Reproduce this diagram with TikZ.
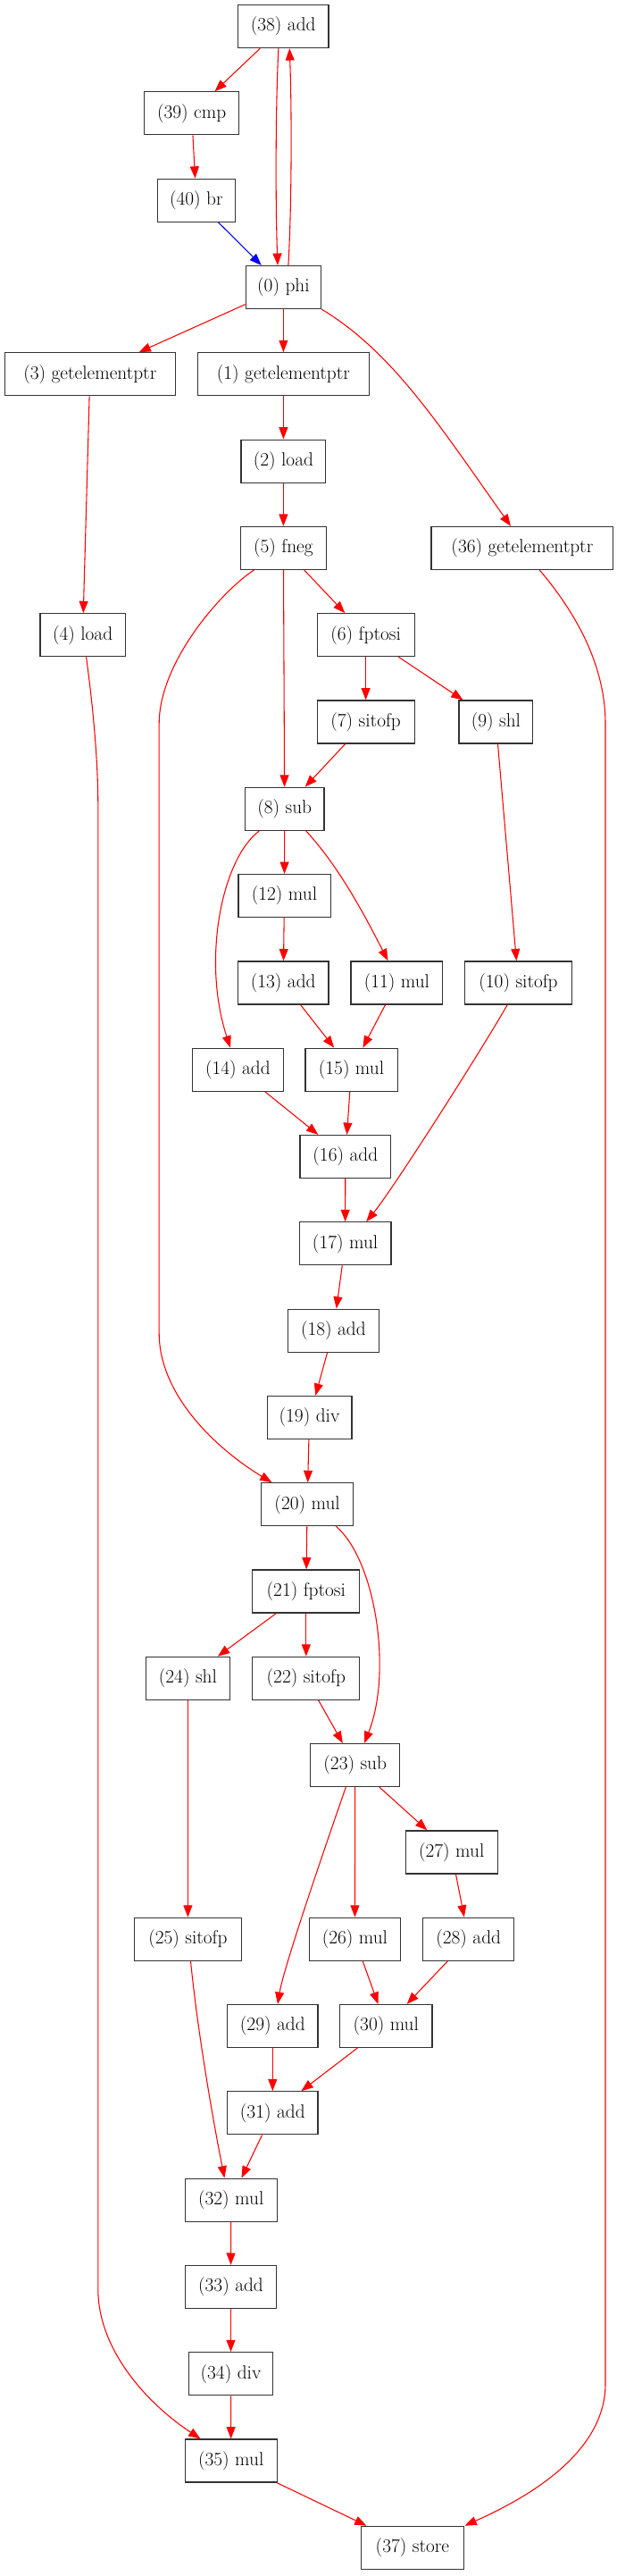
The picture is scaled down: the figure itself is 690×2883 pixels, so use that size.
\documentclass[tikz,border=0pt]{standalone}
\usetikzlibrary{arrows.meta,calc}
\begin{document}
\begin{tikzpicture}[x=0.75pt,y=-0.75pt,
  nd/.style={draw=black!80, line width=0.9pt, rectangle, minimum height=36pt, inner sep=0pt, font=\fontsize{16}{19}\selectfont, minimum width={#1*0.75pt}},
  ed/.style={draw=red, line width=0.8pt, -{Triangle[length=10pt,width=7.5pt]}},
  be/.style={ed, draw=blue}]
\useasboundingbox (0,0) rectangle (690,2883);
% nodes
\node[nd=101.5] (n38) at (317.2,29.6) {(38) add};
\node[nd=106.3] (n39) at (214.6,126.9) {(39) cmp};
\node[nd=86.9] (n40) at (219.9,224.2) {(40) br};
\node[nd=84.3] (n0) at (317.4,321.5) {(0) phi};
\node[nd=191] (n3) at (100.8,418.8) {(3) getelementptr};
\node[nd=191.9] (n1) at (317.4,418.8) {(1) getelementptr};
\node[nd=94.8] (n2) at (317.4,516.1) {(2) load};
\node[nd=96.6] (n5) at (317.4,613.4) {(5) fneg};
\node[nd=203.8] (n36) at (584.9,613.4) {(36) getelementptr};
\node[nd=95.3] (n4) at (92.6,710.7) {(4) load};
\node[nd=109] (n6) at (409.6,710.7) {(6) fptosi};
\node[nd=109] (n7) at (409.6,808.0) {(7) sitofp};
\node[nd=82.9] (n9) at (555.4,808.0) {(9) shl};
\node[nd=88.7] (n8) at (318.7,905.3) {(8) sub};
\node[nd=103.2] (n12) at (318.5,1002.6) {(12) mul};
\node[nd=101.5] (n13) at (317.2,1099.9) {(13) add};
\node[nd=102.8] (n11) at (444.4,1099.9) {(11) mul};
\node[nd=120] (n10) at (580.5,1099.9) {(10) sitofp};
\node[nd=101.5] (n14) at (266.4,1197.2) {(14) add};
\node[nd=103.2] (n15) at (393.5,1197.2) {(15) mul};
\node[nd=101.5] (n16) at (386.8,1294.5) {(16) add};
\node[nd=102.8] (n17) at (386.6,1391.8) {(17) mul};
\node[nd=101.9] (n18) at (373.4,1489.1) {(18) add};
\node[nd=94.8] (n19) at (346.5,1586.4) {(19) div};
\node[nd=103.2] (n20) at (344.1,1683.7) {(20) mul};
\node[nd=120] (n21) at (342.8,1781.0) {(21) fptosi};
\node[nd=94.4] (n24) at (210.4,1878.3) {(24) shl};
\node[nd=120] (n22) at (342.8,1878.3) {(22) sitofp};
\node[nd=100.1] (n23) at (397.7,1975.6) {(23) sub};
\node[nd=102.8] (n27) at (505.7,2072.9) {(27) mul};
\node[nd=120] (n25) at (210.4,2170.2) {(25) sitofp};
\node[nd=102.3] (n26) at (397.4,2170.2) {(26) mul};
\node[nd=101.9] (n28) at (524.7,2170.2) {(28) add};
\node[nd=101.5] (n29) at (305.3,2267.5) {(29) add};
\node[nd=103.2] (n30) at (432.3,2267.5) {(30) mul};
\node[nd=101.5] (n31) at (305.3,2364.8) {(31) add};
\node[nd=102.8] (n32) at (258.7,2462.1) {(32) mul};
\node[nd=101.5] (n33) at (258.5,2559.4) {(33) add};
\node[nd=94.4] (n34) at (258.5,2656.7) {(34) div};
\node[nd=102.8] (n35) at (258.7,2754.0) {(35) mul};
\node[nd=114.7] (n37) at (461.9,2851.3) {(37) store};
% straight edges
\draw[ed] (n38) -- (n39);
\draw[ed] (n39) -- (n40);
\draw[be] (n40) -- (n0);
\draw[ed] (n0) -- (n3);
\draw[ed] (n0) -- (n1);
\draw[ed] (n1) -- (n2);
\draw[ed] (n2) -- (n5);
\draw[ed] (n3) -- (n4);
\draw[ed] (n5) -- (n6);
\draw[ed] (n5) -- (n8);
\draw[ed] (n6) -- (n7);
\draw[ed] (n6) -- (n9);
\draw[ed] (n7) -- (n8);
\draw[ed] (n8) -- (n12);
\draw[ed] (n9) -- (n10);
\draw[ed] (n12) -- (n13);
\draw[ed] (n13) -- (n15);
\draw[ed] (n11) -- (n15);
\draw[ed] (n14) -- (n16);
\draw[ed] (n15) -- (n16);
\draw[ed] (n16) -- (n17);
\draw[ed] (n17) -- (n18);
\draw[ed] (n18) -- (n19);
\draw[ed] (n19) -- (n20);
\draw[ed] (n20) -- (n21);
\draw[ed] (n21) -- (n24);
\draw[ed] (n21) -- (n22);
\draw[ed] (n22) -- (n23);
\draw[ed] (n24) -- (n25);
\draw[ed] (n23) -- (n27);
\draw[ed] (n23) -- (n26);
\draw[ed] (n27) -- (n28);
\draw[ed] (n26) -- (n30);
\draw[ed] (n28) -- (n30);
\draw[ed] (n29) -- (n31);
\draw[ed] (n30) -- (n31);
\draw[ed] (n31) -- (n32);
\draw[ed] (n32) -- (n33);
\draw[ed] (n33) -- (n34);
\draw[ed] (n34) -- (n35);
\draw[ed] (n35) -- (n37);
% curved edges
\draw[ed] ($(n38.south)+(-5.3,0)$) .. controls (308.5,120) and (308.5,230) .. ($(n0.north)+(-6.4,0)$);
\draw[ed] ($(n0.north)+(5.5,0)$) .. controls (326.8,230) and (326.8,120) .. ($(n38.south)+(7,0)$);
\draw[ed] (n0.south east) .. controls (439.5,393.7) and (492,476) .. ($(n36.north)+(-12.9,0)$);
\draw[ed] ($(n5.south)+(-32.9,0)$) .. controls (250,660) and (178.2,740) .. (178.2,810)
  -- (178.2,1492) .. controls (178.2,1560) and (240,1620) .. ($(n20.north)+(-39.7,0)$);
\draw[ed] ($(n36.south)+(19.4,0)$) .. controls (640,680) and (678,740) .. (678,810)
  -- (678,2668) .. controls (678,2750) and (580,2800) .. ($(n37.north)+(58.6,0)$);
\draw[ed] ($(n4.south)+(4,0)$) .. controls (104,790) and (109.8,850) .. (109.8,902)
  -- (109.8,2562) .. controls (109.8,2630) and (165,2690) .. ($(n35.north)+(-34.2,0)$);
\draw[ed] ($(n8.south)+(-28.4,0)$) .. controls (248,962) and (226,1075) .. ($(n14.north)+(-8.4,0)$);
\draw[ed] ($(n8.south)+(24,0)$) .. controls (377.7,968) and (404.5,1016.5) .. ($(n11.north)+(-9.9,0)$);
\draw[ed] ($(n10.south)+(-12.3,0)$) .. controls (543.7,1168) and (441.2,1329.5) .. ($(n17.north)+(23.6,0)$);
\draw[ed] ($(n20.south)+(32.2,0)$) .. controls (420,1745) and (440,1870) .. ($(n23.north)+(10.3,0)$);
\draw[ed] ($(n23.south)+(-10.4,0)$) .. controls (370,2050) and (318,2200) .. ($(n29.north)+(5.7,0)$);
\draw[ed] ($(n25.south)+(3.1,0)$) .. controls (222,2280) and (240,2380) .. ($(n32.north)+(-7.3,0)$);
\end{tikzpicture}
\end{document}
